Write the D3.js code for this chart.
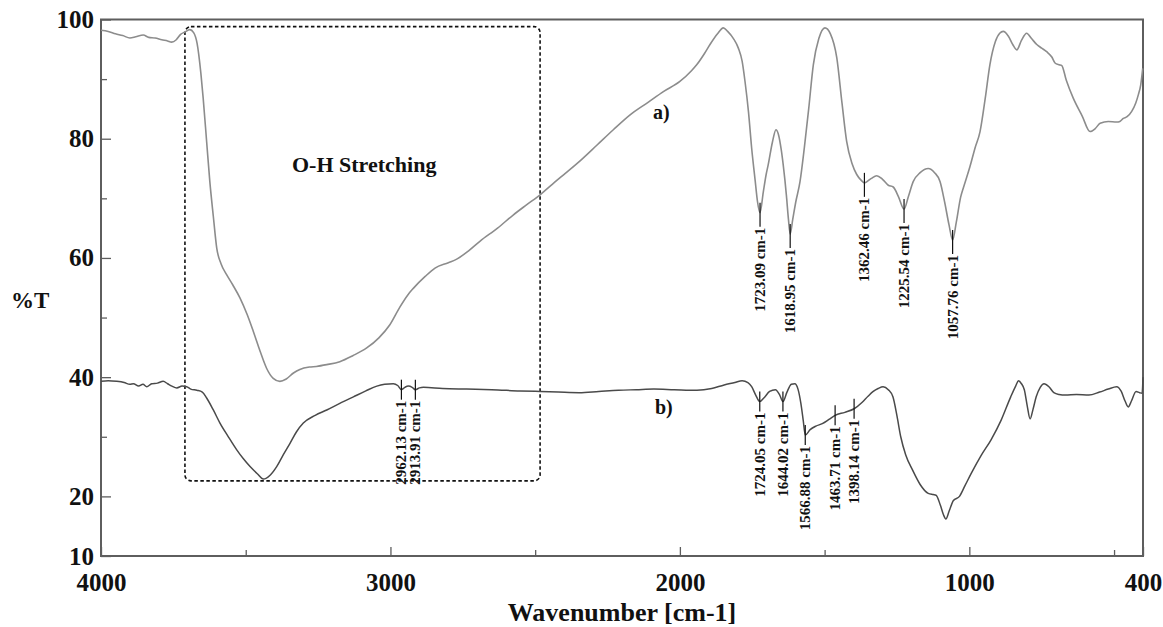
<!DOCTYPE html>
<html>
<head>
<meta charset="utf-8">
<script src="https://cdn.jsdelivr.net/npm/d3@7"></script>
<style>
  html, body { margin: 0; padding: 0; background: #fff; }
  svg { display: block; }
  text { font-family: "Liberation Serif", "Times New Roman", serif; font-weight: bold; fill: #111; }
</style>
</head>
<body>
<svg id="chart" width="1163" height="627"></svg>
<script>
// FTIR spectra: [wavenumber cm-1, %T]
const spectrumA = [
  [4000,98.2],[3975,98.0],[3950,97.6],[3925,97.3],[3900,96.9],[3880,97.1],[3854,97.4],[3835,97.0],
  [3813,96.9],[3790,96.6],[3770,96.4],[3756,96.2],[3740,96.6],[3725,97.5],[3710,97.9],[3693,98.3],
  [3680,97.8],[3668,96.0],[3655,91.0],[3647,86.8],[3635,79.5],[3624,72.8],[3612,67.0],[3600,61.6],
  [3585,59.0],[3566,57.2],[3545,55.5],[3520,53.3],[3495,50.5],[3474,47.7],[3450,44.3],[3428,41.5],
  [3405,39.8],[3382,39.3],[3360,39.7],[3335,40.7],[3313,41.3],[3280,41.7],[3256,41.8],[3220,42.1],
  [3175,42.6],[3130,43.6],[3082,44.9],[3040,46.6],[3002,48.8],[2967,51.8],[2940,53.8],[2921,54.9],
  [2880,56.9],[2846,58.3],[2800,59.2],[2771,59.8],[2730,61.2],[2691,62.8],[2630,65.0],[2576,67.2],
  [2530,68.9],[2483,70.6],[2440,72.4],[2403,73.9],[2340,76.5],[2287,78.9],[2230,81.5],[2172,84.0],
  [2110,86.1],[2057,87.9],[2000,89.6],[1960,91.4],[1942,92.4],[1915,94.3],[1896,95.8],[1870,97.6],
  [1850,98.6],[1835,98.0],[1815,96.8],[1798,95.2],[1785,93.0],[1775,89.6],[1763,84.5],[1752,78.4],
  [1740,73.0],[1732,69.5],[1723.09,67.6],[1712,71.0],[1702,74.0],[1695,75.6],[1680,79.5],[1668,81.5],
  [1660,80.8],[1650,78.2],[1643,75.6],[1632,70.5],[1625,66.5],[1618.95,64.0],[1610,66.5],[1600,69.3],
  [1585,72.8],[1570,78.5],[1555,85.0],[1539,92.4],[1520,96.8],[1499,98.6],[1480,97.6],[1458,93.6],
  [1440,86.0],[1424,79.6],[1405,75.8],[1389,74.0],[1375,73.1],[1362.46,72.6],[1340,73.3],[1320,73.8],
  [1300,73.2],[1280,72.2],[1263,71.9],[1245,70.3],[1225.54,68.2],[1210,70.4],[1194,72.8],[1170,74.3],
  [1142,75.0],[1120,74.3],[1101,72.8],[1085,69.3],[1070,65.5],[1057.76,63.0],[1045,66.0],[1030,70.2],
  [1021,71.7],[998,75.3],[980,78.5],[963,81.2],[945,86.8],[929,92.4],[910,96.3],[895,97.7],
  [883,98.0],[865,97.2],[850,95.8],[836,94.9],[820,96.5],[802,97.7],[785,96.8],[767,95.8],
  [750,95.2],[733,94.6],[715,93.7],[704,92.7],[690,92.4],[681,92.3],[665,89.8],[641,86.8],
  [610,83.8],[583,81.2],[565,81.7],[548,82.6],[520,82.9],[491,82.8],[480,82.9],[468,83.4],
  [455,83.7],[439,84.6],[425,86.0],[416,87.4],[408,89.0],[401,91.8]
];

const spectrumB = [
  [4000,39.3],[3975,39.4],[3946,39.3],[3920,39.1],[3900,38.8],[3888,38.9],[3870,38.5],[3855,38.8],
  [3842,38.4],[3825,38.9],[3805,39.0],[3785,39.3],[3770,38.9],[3755,38.5],[3738,38.2],[3720,38.5],
  [3704,38.4],[3690,38.0],[3669,37.8],[3650,37.5],[3635,36.5],[3612,34.5],[3589,32.3],[3560,30.0],
  [3531,27.8],[3508,26.3],[3485,25.0],[3460,23.8],[3439,22.9],[3415,23.6],[3393,25.0],[3370,27.0],
  [3347,28.9],[3325,30.8],[3301,32.3],[3260,33.6],[3220,34.5],[3175,35.6],[3128,36.7],[3085,37.7],
  [3047,38.5],[3020,38.8],[2990,38.9],[2975,38.6],[2962.13,37.9],[2950,38.3],[2938,38.5],[2925,38.3],
  [2913.91,37.9],[2900,38.2],[2886,38.3],[2820,38.1],[2737,38.0],[2650,37.9],[2553,37.7],[2483,37.6],
  [2420,37.5],[2348,37.4],[2280,37.6],[2212,37.8],[2150,37.9],[2090,38.0],[2020,37.9],[1941,37.8],
  [1890,38.1],[1847,38.7],[1810,39.1],[1785,39.4],[1765,39.1],[1752,38.4],[1738,37.0],[1724.05,35.9],
  [1710,36.5],[1690,37.6],[1670,37.9],[1655,37.0],[1644.02,35.9],[1630,37.5],[1615,38.8],[1603,38.9],
  [1592,38.0],[1582,35.6],[1574,32.8],[1566.88,30.3],[1550,31.2],[1530,31.8],[1508,32.2],[1485,32.9],
  [1463.71,33.6],[1430,34.1],[1398.14,34.7],[1370,35.8],[1350,36.8],[1332,37.6],[1315,38.1],[1298,38.4],
  [1280,37.9],[1264,36.7],[1250,33.5],[1237,30.0],[1220,27.0],[1196,24.4],[1170,22.0],[1142,20.5],
  [1125,20.3],[1115,20.2],[1100,18.5],[1090,17.0],[1081,16.2],[1070,17.5],[1055,19.3],[1034,20.0],
  [1015,21.8],[993,23.9],[960,26.8],[925,29.5],[890,32.8],[857,36.7],[840,38.5],[830,39.4],
  [820,38.9],[810,37.9],[800,35.2],[790,33.0],[780,34.6],[769,36.7],[755,38.3],[742,38.9],
  [725,38.4],[708,37.4],[690,37.1],[668,37.0],[630,37.1],[587,37.0],[550,37.5],[520,38.0],
  [491,38.4],[475,37.6],[462,36.0],[451,35.0],[440,36.0],[424,37.6],[412,37.4],[403,37.3],[400,40.0]
];

// labelled band positions (cm-1)
const peaksA = [1723.09, 1618.95, 1362.46, 1225.54, 1057.76];
const peaksB = [2962.13, 2913.91, 1724.05, 1644.02, 1566.88, 1463.71, 1398.14];

// axis ticks
const xMajorTicks = [4000, 3000, 2000, 1000, 400];
const xMinorTicks = [3500, 2500, 1500, 500];
const yMajorTicks = [100, 80, 60, 40, 20, 10];
const yMinorTicks = [90, 70, 50, 30];

// O-H stretching region: [wavenumber from, wavenumber to], [%T low, %T high]
const ohRegionWn = [3710, 2483];
const ohRegionT = [22.6, 98.8];

const texts = {
  xTitle: "Wavenumber [cm-1]",
  yTitle: "%T",
  region: "O-H Stretching",
  a: "a)",
  b: "b)"
};

const svg = d3.select("#chart");
const x = d3.scaleLinear().domain([4000, 400]).range([101, 1143]);
const y = d3.scaleLinear().domain([10, 100]).range([556, 19.5]);

const frameColor = "#5e5e5e";

// frame
svg.append("rect")
  .attr("x", x(4000)).attr("y", y(100))
  .attr("width", x(400) - x(4000)).attr("height", y(10) - y(100))
  .attr("fill", "none").attr("stroke", frameColor).attr("stroke-width", 2);

// x axis (ticks point inward)
const gx = svg.append("g").attr("transform", `translate(0,${y(10)})`);
gx.call(d3.axisBottom(x).tickValues(xMajorTicks).tickSize(-9).tickPadding(11)
  .tickFormat(d3.format("d")));
gx.append("g").call(d3.axisBottom(x).tickValues(xMinorTicks).tickSize(-6).tickFormat(""));
gx.selectAll(".domain").remove();
gx.selectAll("line").attr("stroke", frameColor).attr("stroke-width", 1.3);
gx.selectAll("text").attr("font-size", 25).attr("font-family", "Liberation Serif")
  .attr("font-weight", "bold").attr("fill", "#111").attr("dy", "0.95em");

// y axis (ticks point inward)
const gy = svg.append("g").attr("transform", `translate(${x(4000)},0)`);
gy.call(d3.axisLeft(y).tickValues(yMajorTicks).tickSize(-10).tickPadding(7));
gy.append("g").call(d3.axisLeft(y).tickValues(yMinorTicks).tickSize(-6).tickFormat(""));
gy.selectAll(".domain").remove();
gy.selectAll("line").attr("stroke", frameColor).attr("stroke-width", 1.3);
gy.selectAll("text").attr("font-size", 25).attr("font-family", "Liberation Serif")
  .attr("font-weight", "bold").attr("fill", "#111");

// axis titles
svg.append("text").attr("x", (x(4000) + x(400)) / 2).attr("y", 621)
  .attr("text-anchor", "middle").attr("font-size", 26).text(texts.xTitle);
svg.append("text").attr("x", 11).attr("y", 308)
  .attr("font-size", 23).text(texts.yTitle);

// O-H stretching region box
svg.append("rect")
  .attr("x", x(ohRegionWn[0])).attr("y", y(ohRegionT[1]))
  .attr("width", x(ohRegionWn[1]) - x(ohRegionWn[0]))
  .attr("height", y(ohRegionT[0]) - y(ohRegionT[1]))
  .attr("rx", 6).attr("ry", 6)
  .attr("fill", "none").attr("stroke", "#111").attr("stroke-width", 1.6)
  .attr("stroke-dasharray", "3.5,2.5");
svg.append("text").attr("x", 292).attr("y", 172)
  .attr("font-size", 22).text(texts.region);

// spectra
const line = d3.line().x(d => x(d[0])).y(d => y(d[1])).curve(d3.curveMonotoneX);
svg.append("path").datum(spectrumA).attr("d", line)
  .attr("fill", "none").attr("stroke", "#8c8c8c").attr("stroke-width", 1.6);
svg.append("path").datum(spectrumB).attr("d", line)
  .attr("fill", "none").attr("stroke", "#4a4a4a").attr("stroke-width", 1.5);

svg.append("text").attr("x", 653).attr("y", 119).attr("font-size", 20).text(texts.a);
svg.append("text").attr("x", 655).attr("y", 414).attr("font-size", 20).text(texts.b);

// band labels: tick through the curve, rotated label beneath
function bandLabels(spectrum, peaks, below) {
  const lookup = new Map(spectrum.map(d => [d[0], d[1]]));
  peaks.forEach(wn => {
    const px = x(wn), py = y(lookup.get(wn));
    svg.append("line")
      .attr("x1", px).attr("x2", px).attr("y1", py - 10).attr("y2", py + below)
      .attr("stroke", "#111").attr("stroke-width", 1.2);
    svg.append("text")
      .attr("transform", `translate(${px},${py + below + 1}) rotate(-90)`)
      .attr("text-anchor", "end").attr("dy", "0.33em")
      .attr("font-size", 15).text(`${wn.toFixed(2)} cm-1`);
  });
}
bandLabels(spectrumA, peaksA, 14);
bandLabels(spectrumB, peaksB, 10);
</script>
</body>
</html>
